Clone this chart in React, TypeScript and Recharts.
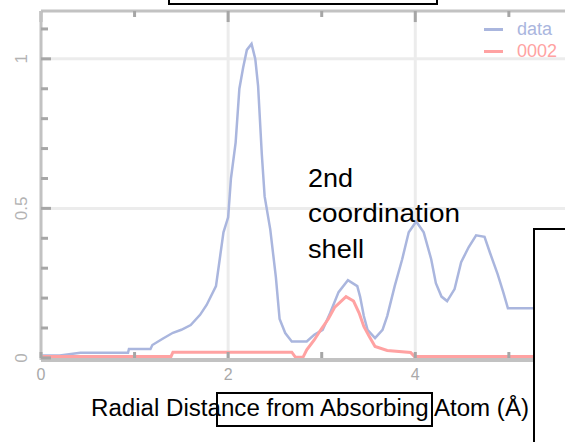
import { LineChart, Line, XAxis, YAxis, ReferenceLine, Legend } from "recharts";

const dataX = [
  0, 0.2, 0.42, 0.93, 0.94, 1.17, 1.19, 1.3, 1.41, 1.5, 1.6, 1.7, 1.77, 1.87, 1.91, 1.95,
  2.0, 2.03, 2.08, 2.12, 2.16, 2.2, 2.25, 2.29, 2.32, 2.36, 2.39, 2.45, 2.51, 2.55, 2.61,
  2.68, 2.84, 2.92, 3.01, 3.09, 3.18, 3.28, 3.38, 3.41, 3.45, 3.49, 3.57, 3.65, 3.7, 3.78,
  3.86, 3.93, 4.01, 4.09, 4.17, 4.22, 4.28, 4.34, 4.42, 4.49, 4.57, 4.65, 4.74, 4.8, 4.88,
  4.94, 4.99, 5.3,
];
const dataY = [
  0.008, 0.008, 0.017, 0.017, 0.03, 0.03, 0.043, 0.064, 0.084, 0.094, 0.11, 0.144, 0.177, 0.24, 0.33, 0.42,
  0.47, 0.6, 0.72, 0.9, 0.97, 1.03, 1.05, 1.0, 0.91, 0.68, 0.54, 0.43, 0.27, 0.13, 0.083,
  0.055, 0.055, 0.077, 0.094, 0.15, 0.22, 0.26, 0.24, 0.205, 0.14, 0.094, 0.066, 0.094, 0.14, 0.24,
  0.33, 0.42, 0.456, 0.42, 0.33, 0.25, 0.205, 0.19, 0.23, 0.32, 0.37, 0.41, 0.405, 0.35, 0.28,
  0.22, 0.166, 0.166,
];

const fitX = [
  0, 1.39, 1.41, 2.68, 2.72, 2.8, 2.84, 2.92, 2.99, 3.07, 3.14, 3.26, 3.34, 3.4, 3.45, 3.51,
  3.57, 3.7, 3.95, 3.99, 5.3,
];
const fitY = [
  0.005, 0.005, 0.019, 0.019, 0.002, 0.002, 0.027, 0.06, 0.094, 0.13, 0.17, 0.205, 0.19, 0.15, 0.105, 0.071,
  0.038, 0.025, 0.018, 0.005, 0.005,
];

const xTicks = [0, 1, 2, 3, 4, 5];
const xLabels = [0, 2, 4];
const yTicks = [0, 0.1, 0.2, 0.3, 0.4, 0.5, 0.6, 0.7, 0.8, 0.9, 1, 1.1];
const yLabels = [0, 0.5, 1];

const seriesNames = ["data", "0002"];
const annotation = ["2nd", "coordination", "shell"];
const xTitle = "Radial Distance from Absorbing Atom (Å)";

const dataRows = dataX.map((x, i) => ({ x, y: dataY[i] }));
const fitRows = fitX.map((x, i) => ({ x, y: fitY[i] }));

const BLUE = "#aab6de";
const RED = "#ffa2a2";
const AXIS = "#c2c2c2";
const TICK = "#a6a6a6";
const GRID = "#ececec";
const FONT = "'Liberation Sans', Arial, sans-serif";
const Y_MIN = -0.007;
const Y_MAX = 1.16;

function BottomTick(props: any) {
  const { x, y, payload } = props;
  const v = payload.value;
  const major = xLabels.includes(v);
  return (
    <g>
      <line x1={x} x2={x} y1={y - 2} y2={y - 8} stroke={TICK} strokeWidth={3} />
      {major && (
        <text x={x} y={y + 20} textAnchor="middle" fontSize={16} fill="#a9a9a9" fontFamily={FONT}>
          {v}
        </text>
      )}
    </g>
  );
}

function LeftTick(props: any) {
  const { x, y, payload } = props;
  const v = payload.value;
  const major = yLabels.includes(v);
  return (
    <g>
      <line x1={x} x2={x + (major ? 10 : 7)} y1={y} y2={y} stroke={TICK} strokeWidth={3} />
      {major && (
        <text
          x={x - 19}
          y={y}
          transform={`rotate(-90 ${x - 19} ${y})`}
          textAnchor="middle"
          dominantBaseline="central"
          fontSize={17}
          fill="#b3b3b3"
          fontFamily={FONT}
        >
          {v}
        </text>
      )}
    </g>
  );
}

function LegendBox(props: any) {
  const items = [...(props.payload || [])].sort(
    (a: any, b: any) => seriesNames.indexOf(a.value) - seriesNames.indexOf(b.value)
  );
  return (
    <div style={{ fontFamily: FONT }}>
      {items.map((p: any) => (
        <div key={p.value} style={{ display: "flex", alignItems: "center", height: 22 }}>
          <span style={{ display: "inline-block", width: 19, height: 3, background: p.color, marginRight: 14 }} />
          <span style={{ color: p.color, fontSize: 18 }}>{p.value}</span>
        </div>
      ))}
    </div>
  );
}

export default function App() {
  return (
    <div style={{ position: "absolute", left: 0, top: 0, width: 565, height: 442, background: "#fff" }}>
      <LineChart width={565} height={442} margin={{ top: 11, right: 0, bottom: 52, left: 0 }}>
        <ReferenceLine x={2} stroke={GRID} strokeWidth={3} />
        <ReferenceLine x={4} stroke={GRID} strokeWidth={3} />
        <ReferenceLine y={0.5} stroke={GRID} strokeWidth={3} />
        <ReferenceLine y={1} stroke={GRID} strokeWidth={3} />
        <ReferenceLine y={Y_MAX} stroke={AXIS} strokeWidth={3} />
        <XAxis
          dataKey="x"
          type="number"
          domain={[0, 5.6]}
          ticks={xTicks}
          height={30}
          tickSize={0}
          tickMargin={0}
          tickLine={false}
          axisLine={{ stroke: AXIS, strokeWidth: 4 }}
          tick={<BottomTick />}
          allowDataOverflow
        />
        <YAxis
          type="number"
          domain={[Y_MIN, Y_MAX]}
          ticks={yTicks}
          width={41}
          tickSize={0}
          tickMargin={0}
          tickLine={false}
          axisLine={{ stroke: AXIS, strokeWidth: 3 }}
          tick={<LeftTick />}
          allowDataOverflow
        />
        {xTicks.map((t) => (
          <ReferenceLine
            key={"top" + t}
            segment={[
              { x: t, y: Y_MAX },
              { x: t, y: Y_MAX - (xLabels.includes(t) ? 0.037 : 0.02) },
            ]}
            stroke={TICK}
            strokeWidth={3}
          />
        ))}
        <Legend
          align="center"
          verticalAlign="middle"
          content={<LegendBox />}
          wrapperStyle={{ position: "absolute", top: 18, left: 484, width: 81, height: 44 }}
        />
        <Line
          data={dataRows}
          dataKey="y"
          name={seriesNames[0]}
          stroke={BLUE}
          strokeWidth={2.5}
          dot={false}
          activeDot={false}
          isAnimationActive={false}
        />
        <Line
          data={fitRows}
          dataKey="y"
          name={seriesNames[1]}
          stroke={RED}
          strokeWidth={3}
          dot={false}
          activeDot={false}
          isAnimationActive={false}
        />
      </LineChart>

      {/* boxes and annotation laid over the plot */}
      <svg width={565} height={442} style={{ position: "absolute", left: 0, top: 0, pointerEvents: "none" }}>
        <rect x={169} y={-10} width={268} height={14} fill="#fff" stroke="#000" strokeWidth={2} />
        <rect x={534} y={229} width={60} height={260} fill="#fff" stroke="#000" strokeWidth={2} />
        <text x={308} y={187} fontSize={25} fontFamily={FONT} fill="#000" textLength={45} lengthAdjust="spacingAndGlyphs">
          {annotation[0]}
        </text>
        <text x={308} y={222} fontSize={25} fontFamily={FONT} fill="#000" textLength={152} lengthAdjust="spacingAndGlyphs">
          {annotation[1]}
        </text>
        <text x={308} y={258} fontSize={25} fontFamily={FONT} fill="#000" textLength={56} lengthAdjust="spacingAndGlyphs">
          {annotation[2]}
        </text>
        <text x={91} y={416} fontSize={23} fontFamily={FONT} fill="#000" textLength={438} lengthAdjust="spacingAndGlyphs">
          {xTitle}
        </text>
        <rect x={217} y={393} width={215} height={33} fill="none" stroke="#000" strokeWidth={2} />
      </svg>
    </div>
  );
}
